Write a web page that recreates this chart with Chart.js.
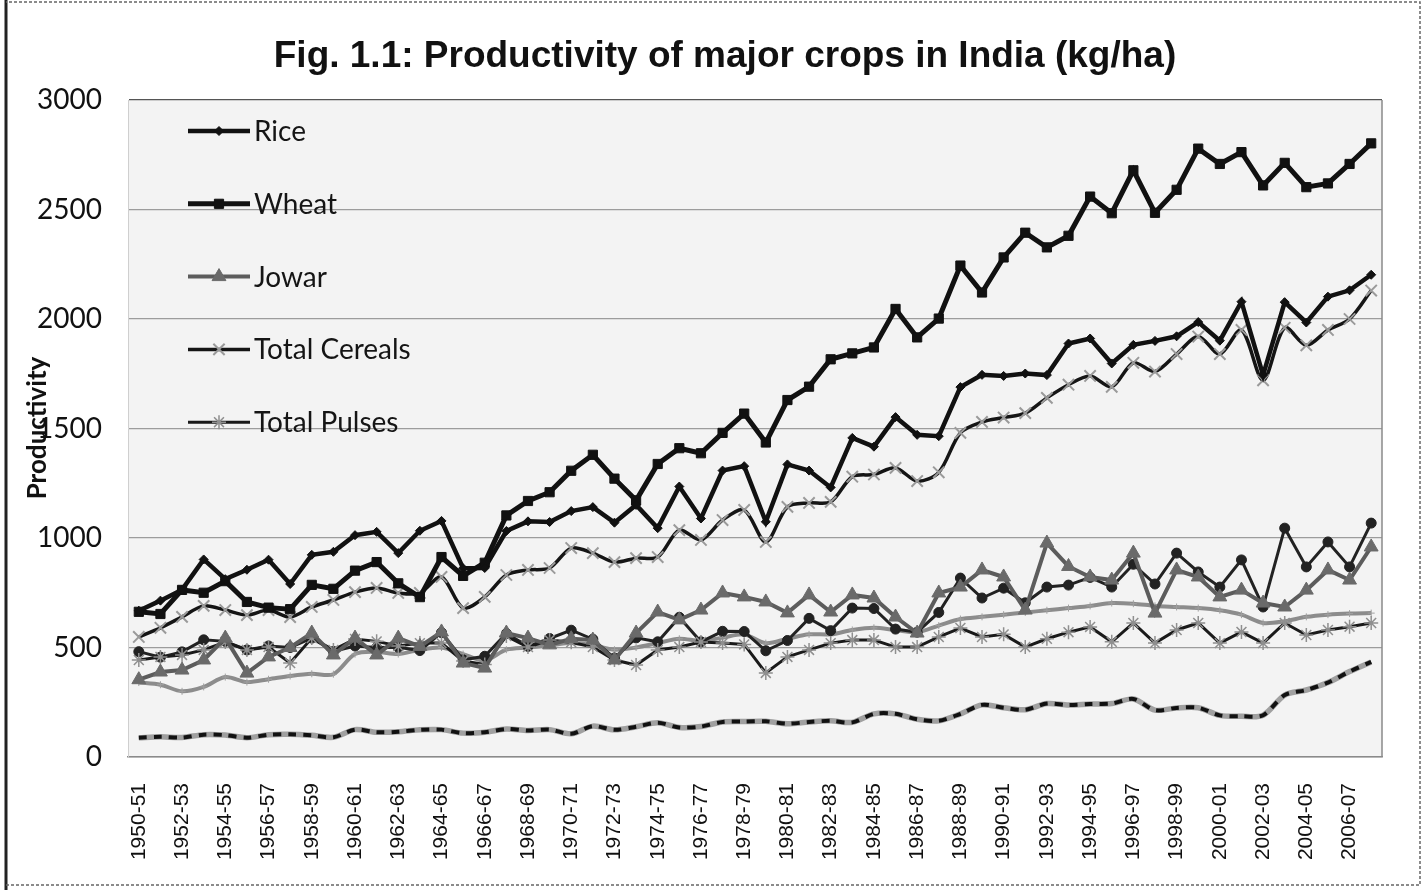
<!DOCTYPE html>
<html><head><meta charset="utf-8">
<script src="https://cdn.jsdelivr.net/npm/chart.js@4.4.1/dist/chart.umd.min.js"></script>
<style>html,body{margin:0;padding:0;background:#fff;overflow:hidden}#wrap{position:relative;width:1425px;height:890px}</style>
</head><body><div id="wrap"><canvas id="c" width="1425" height="890"></canvas></div>
<script>
const categories = ['1950-51','1951-52','1952-53','1953-54','1954-55','1955-56','1956-57','1957-58','1958-59','1959-60',
'1960-61','1961-62','1962-63','1963-64','1964-65','1965-66','1966-67','1967-68','1968-69','1969-70',
'1970-71','1971-72','1972-73','1973-74','1974-75','1975-76','1976-77','1977-78','1978-79','1979-80',
'1980-81','1981-82','1982-83','1983-84','1984-85','1985-86','1986-87','1987-88','1988-89','1989-90',
'1990-91','1991-92','1992-93','1993-94','1994-95','1995-96','1996-97','1997-98','1998-99','1999-00',
'2000-01','2001-02','2002-03','2003-04','2004-05','2005-06','2006-07','2007-08'];

const rice = [668,714,764,902,812,855,901,790,923,937, 1013,1028,931,1033,1078,862,863,1032,1076,1073,
 1123,1141,1070,1151,1045,1235,1089,1308,1328,1074, 1336,1308,1231,1457,1417,1552,1471,1465,1689,1745,
 1740,1751,1744,1888,1911,1797,1882,1900,1921,1986, 1901,2079,1744,2077,1984,2102,2131,2202];
const wheat = [663,653,763,750,803,708,682,675,786,768, 851,890,793,730,913,827,887,1103,1169,1209,
 1307,1380,1271,1172,1338,1410,1387,1480,1568,1436, 1630,1691,1816,1843,1870,2046,1916,2002,2244,2121,
 2281,2394,2327,2380,2559,2483,2679,2485,2590,2778, 2708,2762,2610,2713,2602,2619,2708,2802];
const jowar = [353,388,397,443,543,383,457,500,566,466, 543,466,543,505,571,429,406,566,543,512,
 540,534,443,566,662,626,671,749,731,708, 658,740,662,740,726,639,566,749,776,854,
 822,671,977,870,822,808,931,657,854,822, 731,762,703,685,762,854,808,959];
const totalCereals = [548,590,640,690,671,648,671,639,685,717, 753,772,749,749,822,680,731,831,854,863,
 954,931,890,908,913,1036,991,1082,1128,982, 1142,1160,1165,1280,1290,1320,1260,1300,1480,1530,
 1550,1570,1640,1700,1740,1690,1800,1760,1840,1920, 1840,1950,1720,1960,1880,1950,2000,2130];
const totalPulses = [443,457,466,489,525,489,502,429,543,489, 539,528,507,520,520,438,422,552,502,534,
 524,502,443,420,489,502,525,520,514,384, 457,489,520,534,534,502,502,548,589,548,
 560,502,540,570,594,526,612,520,580,612, 520,571,520,612,557,580,595,612];
const oilseeds = [481,456,480,535,528,489,507,500,543,482, 507,500,501,486,568,444,460,564,505,541,
 579,538,452,544,526,638,526,574,573,485, 532,633,577,680,678,584,570,660,817,726,
 771,704,776,785,820,776,880,790,931,845, 776,900,685,1045,868,982,868,1068];
const smallMillets = [340,330,300,320,365,342,355,370,380,378, 470,480,470,490,500,470,440,490,500,510,
 520,510,490,500,520,540,530,545,560,520, 540,560,560,580,590,580,570,600,630,640,
 650,660,670,680,690,703,700,690,685,680, 670,650,612,620,640,650,655,657];
const cotton = [88,92,89,102,100,88,102,104,99,90, 125,113,115,124,125,109,113,128,121,125,
 106,141,124,138,156,135,139,160,162,163, 152,160,165,158,197,197,172,165,197,238,
 225,216,244,237,242,244,265,214,224,225, 190,186,191,283,306,340,390,434];

const yTickValues = [0,500,1000,1500,2000,2500,3000];
const titleText = 'Fig. 1.1: Productivity of major crops in India (kg/ha)';
const yAxisTitle = 'Productivity';
const legendNames = ['Rice','Wheat','Jowar','Total Cereals','Total Pulses'];

const datasets = [
 {label:'Rice', data:rice, borderColor:'#111', borderWidth:4.5, pointStyle:'rectRot', pointRadius:4.5,
  pointBackgroundColor:'#111', pointBorderColor:'#111', pointBorderWidth:1, tension:0},
 {label:'Wheat', data:wheat, borderColor:'#111', borderWidth:5, pointStyle:'rect', pointRadius:6.5,
  pointBackgroundColor:'#111', pointBorderColor:'#111', pointBorderWidth:1, tension:0},
 {label:'Jowar', data:jowar, borderColor:'#5c5c5c', borderWidth:4, pointStyle:'triangle', pointRadius:8,
  pointBackgroundColor:'#6a6a6a', pointBorderColor:'#6a6a6a', pointBorderWidth:1, tension:0},
 {label:'Total Cereals', data:totalCereals, borderColor:'#151515', borderWidth:3.5, pointStyle:'crossRot', pointRadius:8,
  pointBackgroundColor:'#9a9a9a', pointBorderColor:'#9a9a9a', pointBorderWidth:2, tension:0.3},
 {label:'Total Pulses', data:totalPulses, borderColor:'#1a1a1a', borderWidth:3, pointStyle:'star', pointRadius:7,
  pointBackgroundColor:'#8f8f8f', pointBorderColor:'#8f8f8f', pointBorderWidth:1.5, tension:0},
 {label:'Oilseeds', data:oilseeds, borderColor:'#222', borderWidth:3, pointStyle:'circle', pointRadius:5,
  pointBackgroundColor:'#222', pointBorderColor:'#222', pointBorderWidth:1, tension:0},
 {label:'Small Millets', data:smallMillets, borderColor:'#8c8c8c', borderWidth:4, pointStyle:'cross', pointRadius:3.5,
  pointBackgroundColor:'#a0a0a0', pointBorderColor:'#a0a0a0', pointBorderWidth:1, tension:0.3},
 {label:'Cotton', data:cotton, borderColor:'#111', borderWidth:4, borderDash:[8,7], pointRadius:0, tension:0.3},
 {label:'Cotton base', data:cotton, borderColor:'#a0a0a0', borderWidth:5.5, pointRadius:0, tension:0.3}
];

const bgPlugin = {
 id:'bg',
 beforeDraw(chart){
  const {ctx, chartArea:a} = chart;
  ctx.save();
  ctx.fillStyle='#fff'; ctx.fillRect(0,0,chart.width,chart.height);
  ctx.fillStyle='#f3f3f3'; ctx.fillRect(a.left,a.top,a.right-a.left,a.bottom-a.top);
  ctx.restore();
 }
};

const decoPlugin = {
 id:'deco',
 afterDraw(chart){
  const {ctx, chartArea:a} = chart;
  ctx.save();
  ctx.strokeStyle='#8a8a8a'; ctx.lineWidth=1.5;
  ctx.beginPath(); ctx.moveTo(a.right,a.top); ctx.lineTo(a.right,a.bottom); ctx.stroke();
  // title
  ctx.fillStyle='#111'; ctx.font='bold 37px "Liberation Sans", Arial, sans-serif';
  ctx.textAlign='center'; ctx.textBaseline='middle';
  ctx.fillText(titleText, 725, 57);
  // y title
  ctx.save(); ctx.translate(38,428); ctx.rotate(-Math.PI/2);
  ctx.font='bold 26px Lato, sans-serif'; ctx.fillText(yAxisTitle,0,0); ctx.restore();
  // legend
  ctx.textAlign='left';
  legendNames.forEach((name,i)=>{
    const ds = chart.data.datasets.find(d=>d.label===name);
    const y = 131 + i*72.8;
    ctx.strokeStyle=ds.borderColor; ctx.lineWidth=ds.borderWidth; ctx.setLineDash([]);
    ctx.beginPath(); ctx.moveTo(188,y); ctx.lineTo(250,y); ctx.stroke();
    ctx.fillStyle=ds.pointBackgroundColor; ctx.strokeStyle=ds.pointBorderColor; ctx.lineWidth=ds.pointBorderWidth;
    if (Chart.helpers && Chart.helpers.drawPoint) {
      Chart.helpers.drawPoint(ctx,{pointStyle:ds.pointStyle,radius:ds.pointRadius,borderWidth:ds.pointBorderWidth,rotation:0},219,y);
    }
    ctx.fillStyle='#151515'; ctx.font='28px Lato, sans-serif'; ctx.textBaseline='middle';
    ctx.fillText(name,254,y+1);
  });
  // frame
  ctx.strokeStyle='#222'; ctx.lineWidth=3;
  ctx.beginPath(); ctx.moveTo(6,0); ctx.lineTo(6,890); ctx.stroke();
  ctx.strokeStyle='#666'; ctx.lineWidth=1.5; ctx.setLineDash([3,2]);
  ctx.beginPath(); ctx.moveTo(6,885); ctx.lineTo(1420,885); ctx.lineTo(1420,2); ctx.lineTo(6,2); ctx.stroke();
  ctx.restore();
 }
};

new Chart(document.getElementById('c'), {
 type:'line',
 data:{labels:categories, datasets:datasets},
 options:{
  responsive:false, animation:false, devicePixelRatio:1,
  layout:{padding:{top:100,right:43,bottom:0,left:0}},
  plugins:{legend:{display:false}, title:{display:false}, tooltip:{enabled:false}},
  elements:{line:{fill:false}},
  scales:{
   x:{
    offset:true,
    afterFit(s){ s.height = 133; },
    grid:{display:false, drawTicks:false},
    border:{display:true, color:'#8a8a8a', width:1.5},
    ticks:{autoSkip:false, minRotation:90, maxRotation:90, padding:26, color:'#111',
      font:{family:'"Liberation Sans", Arial, sans-serif', size:21},
      callback(v,i){ return i%2===0 ? categories[i] : ''; }}
   },
   y:{
    min:0, max:3000,
    afterFit(s){ s.width = 128; },
    afterBuildTicks(s){ s.ticks = yTickValues.map(v=>({value:v})); },
    grid:{drawTicks:false, color:(c)=> c.tick && c.tick.value===3000 ? '#555' : '#9c9c9c', lineWidth:1.2},
    border:{display:true, color:'#cfcfcf', width:1},
    ticks:{padding:26, color:'#111', font:{family:'Lato, sans-serif', size:28},
      callback(v){ return String(v); }}
   }
  }
 },
 plugins:[bgPlugin, decoPlugin]
});
</script>
</body></html>
